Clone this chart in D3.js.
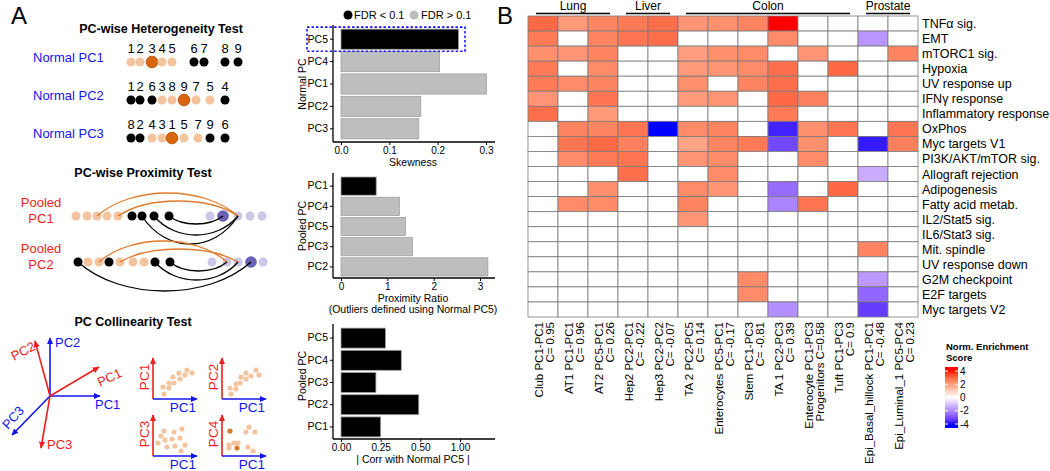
<!DOCTYPE html>
<html>
<head>
<meta charset="utf-8">
<script src="https://cdn.jsdelivr.net/npm/d3@7"></script>
<style>
  body { margin: 0; background: #fff; }
  svg { display: block; font-family: "Liberation Sans", Arial, sans-serif; }
</style>
</head>
<body>
<svg id="fig" width="1050" height="471"></svg>
<script>
// ── Panel A bar-chart data ───────────────────────────────────
const skewPCs  = ["PC5", "PC4", "PC1", "PC2", "PC3"];
const skewVals = [0.243, 0.204, 0.301, 0.165, 0.161];
const skewSig  = [true, false, false, false, false];

const proxPCs  = ["PC1", "PC4", "PC5", "PC3", "PC2"];
const proxVals = [0.76, 1.26, 1.39, 1.54, 3.17];
const proxSig  = [true, false, false, false, false];

const corrPCs  = ["PC5", "PC4", "PC3", "PC2", "PC1"];
const corrVals = [0.28, 0.38, 0.22, 0.49, 0.25];
const corrSig  = [true, true, true, true, true];
const corrTicks      = [0, 0.25, 0.5, 0.75];
const corrTickLabels = ["0.00", "0.25", "0.50", "1.00"];

// ── Panel A schematic data ───────────────────────────────────
const hetLabels = ["Normal PC1", "Normal PC2", "Normal PC3"];
const hetIds  = [[1,2,3,4,5,6,7,8,9], [1,2,6,3,8,9,7,5,4], [8,2,4,3,1,5,7,9,6]];
const hetKind = [["l","l","d","l","l","b","b","b","b"],
                 ["b","b","b","l","l","d","l","l","b"],
                 ["b","b","l","l","d","l","l","b","b"]];
const hetSlot = [[0,0.9,2.1,3.1,4.1,6.3,7.3,9.4,10.7],
                 [0,0.9,2.1,3.1,4.1,5.3,6.5,7.9,9.4],
                 [0,0.9,2.1,3.1,4.1,5.3,6.7,7.9,9.4]];

const proxLabels = ["PC1", "PC2"];
const proxKind = [["l","l","l","l","l","b","b","b","b","p","P","p","p","p"],
                  ["b","l","l","b","l","l","l","b","b","p","p","p","P","p"]];
const proxSlot = [[0,1.1,2.1,3.1,4.2,5.6,6.6,7.8,9.3,13.4,14.7,16.2,17.4,18.6],
                  [0.2,1.2,2.3,3.3,4.4,5.7,6.8,7.9,9.4,13.6,15.1,16.2,17.5,18.7]];
// arcs: [from dot, to dot, bulge (neg = above), colour kind]
const proxArcs = [
  [[2,11,-23,"o"], [4,11,-15,"o"], [8,10,8,"k"], [7,11,19,"k"], [6,11,28,"k"]],
  [[2,10,-21,"o"], [4,11,-13,"o"], [8,10,9,"k"], [7,11,18,"k"], [0,12,29,"k"]]
];

// mini scatter panels (PCx vs PC1), offsets from panel origin
const miniY = ["PC1", "PC2", "PC3", "PC4"];
const miniPts = [
  [[11,-5],[10,-12],[16,-11],[16,-16],[21,-16],[20,-22],[27,-20],[26,-26],[32,-24],[34,-29],[39,-26]],
  [[9,-5],[8,-11],[14,-10],[14,-15],[18,-16],[19,-22],[24,-20],[24,-26],[29,-23],[34,-29],[37,-24]],
  [[5,-13],[8,-20],[12,-16],[11,-25],[19,-17],[21,-24],[14,-9],[22,-10],[27,-18],[29,-27],[32,-11],[28,-5]],
  [[7,-11],[7,-8],[12,-13],[16,-13],[24,-24],[27,-29],[33,-24],[26,-9],[31,-5]]
];
const miniDark = [[], [], [], [[8,-25],[15,-8]]];

// ── Panel B heatmap data ─────────────────────────────────────
const hmNames = ["Club PC1-PC1", "AT1 PC1-PC1", "AT2 PC5-PC1", "Hep2 PC2-PC1", "Hep3 PC2-PC2",
  "TA 2 PC2-PC5", "Enterocytes PC5-PC1", "Stem PC1-PC3", "TA 1 PC2-PC3", "Enterocyte PC1-PC3",
  "Tuft PC1-PC3", "Epi_Basal_hillock PC1-PC1", "Epi_Luminal_1 PC5-PC4"];
const hmStats = ["C= 0.95", "C= 0.96", "C= 0.26", "C= -0.22", "C= -0.07", "C= 0.14", "C= -0.17",
  "C= -0.81", "C= 0.39", "Progenitors   C=0.58", "C= 0.9", "C= -0.48", "C= 0.23"];
const hmGroups = ["Lung", "Liver", "Colon", "Prostate"];
const hmGroupSpan = [[0,2], [3,4], [5,10], [11,12]];
const hmSets = ["TNFα sig.", "EMT", "mTORC1 sig.", "Hypoxia", "UV response up", "IFNγ response",
  "Inflammatory response", "OxPhos", "Myc targets V1", "PI3K/AKT/mTOR sig.", "Allograft rejection",
  "Adipogenesis", "Fatty acid metab.", "IL2/Stat5 sig.", "IL6/Stat3 sig.", "Mit. spindle",
  "UV response down", "G2M checkpoint", "E2F targets", "Myc targets V2"];
const nes = [
  [3.0, 2.1, 2.5, 2.7, 2.9, 2.2, 2.3, 2.5, 4.0, 0, 0, 0, 0],
  [2.7, 0, 2.5, 2.8, 2.9, 0, 0, 0, 2.4, 0, 0, -1.8, 0],
  [2.3, 2.2, 2.5, 0, 0, 2.0, 2.3, 2.4, 0, 2.2, 0, 0, 2.5],
  [2.7, 0, 2.4, 0, 0, 2.1, 2.2, 2.4, 2.9, 0, 3.0, 0, 0],
  [2.7, 2.4, 2.5, 0, 0, 2.3, 0, 2.5, 2.9, 0, 0, 0, 0],
  [2.2, 0, 2.8, 0, 0, 2.1, 2.2, 0, 3.0, 2.6, 0, 0, 0],
  [2.9, 0, 2.1, 0, 0, 0, 0, 0, 2.7, 0, 0, 0, 0],
  [0, 2.5, 2.5, 2.8, -4.0, 2.4, 2.5, 0, -3.7, 2.3, 2.8, 0, 2.8],
  [0, 2.8, 3.0, 2.6, 0, 1.9, 2.5, 2.7, -3.1, 2.3, 0, -3.8, 2.6],
  [0, 2.4, 2.7, 2.8, 0, 2.2, 2.4, 0, 0, 2.4, 0, 0, 0],
  [0, 0, 0, 2.9, 0, 0, 2.4, 0, 0, 0, 0, -1.4, 0],
  [0, 0, 2.3, 0, 0, 2.4, 2.2, 0, -2.5, 0, 3.0, 0, 0],
  [0, 2.4, 2.4, 0, 0, 2.5, 0, 0, -2.1, 2.8, 0, 0, 0],
  [0, 0, 0, 0, 0, 2.2, 0, 0, 0, 0, 0, 0, 0],
  [0, 0, 0, 0, 0, 0, 0, 0, 0, 0, 0, 0, 0],
  [0, 0, 0, 0, 0, 0, 0, 0, 0, 0, 0, 2.5, 0],
  [0, 0, 0, 0, 0, 0, 0, 0, 0, 0, 0, 0, 0],
  [0, 0, 0, 0, 0, 0, 0, 2.4, 0, 0, 0, -1.7, 0],
  [0, 0, 0, 0, 0, 0, 0, 2.4, 0, 0, 0, -2.6, 0],
  [0, 0, 0, 0, 0, 0, 0, 0, -1.9, 0, 0, -3.3, 0]
];
const legendTicks = [4, 2, 0, -2, -4];

// ── colours ──────────────────────────────────────────────────
const LIGHT_OR = "#f3c49e", DARK_OR = "#d8650f", ARC_OR = "#e07a2c";
const LIGHT_PU = "#cbc6e6", DARK_PU = "#6a60b6";
const BLUE = "#1414f0", RED = "#f01e1e";

const svg = d3.select("#fig");

// panel letters
svg.append("text").attr("x", 11).attr("y", 24).attr("font-size", 24).text("A");
svg.append("text").attr("x", 497).attr("y", 24).attr("font-size", 24).text("B");

// ============================================================
//  Panel A – schematics
// ============================================================
const defs = svg.append("defs");
[["arRed", RED], ["arBlue", BLUE]].forEach(([id, c]) => {
  defs.append("marker").attr("id", id)
    .attr("viewBox", "0 -5 10 10").attr("refX", 9).attr("refY", 0)
    .attr("markerWidth", 7).attr("markerHeight", 7).attr("orient", "auto")
    .attr("markerUnits", "userSpaceOnUse")
    .append("path").attr("d", "M0,-4.5L10,0L0,4.5Z").attr("fill", c);
});

function title(x, y, t) {
  svg.append("text").attr("x", x).attr("y", y).attr("text-anchor", "middle")
    .attr("font-size", 12.5).attr("font-weight", "bold").text(t);
}

// --- heterogeneity test
title(161, 33, "PC-wise Heterogeneity Test");
const hetX = d3.scaleLinear().domain([0, 10]).range([131, 231]);
const hetDotY = [62, 100, 138];
hetLabels.forEach((lab, r) => {
  const g = svg.append("g");
  g.append("text").attr("x", 33).attr("y", hetDotY[r]).attr("font-size", 13)
    .attr("fill", BLUE).text(lab);
  hetSlot[r].forEach((s, i) => {
    const k = hetKind[r][i];
    g.append("circle").attr("cx", hetX(s)).attr("cy", hetDotY[r])
      .attr("r", k === "d" ? 5.8 : 4.5)
      .attr("fill", k === "b" ? "#000" : k === "d" ? DARK_OR : LIGHT_OR)
      .attr("stroke", k === "d" ? "#c45a0c" : "none");
    g.append("text").attr("x", hetX(s)).attr("y", hetDotY[r] - 9)
      .attr("text-anchor", "middle").attr("font-size", 13).text(hetIds[r][i]);
  });
});

// --- proximity test
title(143, 177, "PC-wise Proximity Test");
const proxX = d3.scaleLinear().domain([0, 10]).range([76, 176]);
const proxDotY = [216, 262];
function arcPath(x1, x2, y, h) {
  const dx = x2 - x1;
  return `M${x1},${y} C${x1 + dx * 0.25},${y + h / 0.75} ${x1 + dx * 0.75},${y + h / 0.75} ${x2},${y}`;
}
proxLabels.forEach((lab, r) => {
  const y = proxDotY[r];
  const g = svg.append("g");
  g.append("text").attr("x", 41).attr("y", y - 9).attr("text-anchor", "middle")
    .attr("font-size", 13).attr("fill", RED).text("Pooled");
  g.append("text").attr("x", 41).attr("y", y + 7).attr("text-anchor", "middle")
    .attr("font-size", 13).attr("fill", RED).text(lab);
  proxSlot[r].forEach((s, i) => {
    const k = proxKind[r][i];
    g.append("circle").attr("cx", proxX(s)).attr("cy", y)
      .attr("r", k === "P" ? 5.8 : 4.5)
      .attr("fill", k === "b" ? "#000" : k === "l" ? LIGHT_OR : k === "p" ? LIGHT_PU : DARK_PU);
  });
  proxArcs[r].forEach(([a, b, h, c]) => {
    g.append("path").attr("d", arcPath(proxX(proxSlot[r][a]), proxX(proxSlot[r][b]), y, h))
      .attr("fill", "none").attr("stroke", c === "o" ? ARC_OR : "#000").attr("stroke-width", 1.3);
  });
});

// --- collinearity test
title(133, 326, "PC Collinearity Test");
const O = [50, 396];
const vecs = [
  // [dx, dy, colour, label, lx, ly, rot]
  [0, -58, BLUE, "PC2", 55, 347, 0],
  [50, 0, BLUE, "PC1", 95, 409, 0],
  [-38, 39, BLUE, "PC3", 8, 430, -48],
  [-15, -55, RED, "PC2", 14, 361, -28],
  [49, -29, RED, "PC1", 100, 387, -25],
  [-9, 52, RED, "PC3", 47, 449, 0]
];
vecs.forEach(([dx, dy, c, lab, lx, ly, rot]) => {
  svg.append("line").attr("x1", O[0]).attr("y1", O[1]).attr("x2", O[0] + dx).attr("y2", O[1] + dy)
    .attr("stroke", c).attr("stroke-width", 1.6)
    .attr("marker-end", `url(#${c === RED ? "arRed" : "arBlue"})`);
  svg.append("text").attr("transform", `translate(${lx},${ly}) rotate(${rot})`)
    .attr("font-size", 13).attr("fill", c).text(lab);
});

const miniOrigin = [[153, 399], [222, 399], [153, 456], [222, 456]];
miniY.forEach((lab, p) => {
  const [ox, oy] = miniOrigin[p];
  const g = svg.append("g").attr("transform", `translate(${ox},${oy})`);
  g.append("line").attr("x1", 0).attr("y1", 0).attr("x2", 0).attr("y2", -41)
    .attr("stroke", RED).attr("stroke-width", 1.6).attr("marker-end", "url(#arRed)");
  g.append("line").attr("x1", 0).attr("y1", 0).attr("x2", 44).attr("y2", 0)
    .attr("stroke", BLUE).attr("stroke-width", 1.6).attr("marker-end", "url(#arBlue)");
  g.append("text").attr("transform", "translate(-4,-22) rotate(-90)").attr("text-anchor", "middle")
    .attr("font-size", 13.5).attr("fill", RED).text(lab);
  g.append("text").attr("x", 30).attr("y", 13).attr("text-anchor", "middle")
    .attr("font-size", 13.5).attr("fill", BLUE).text("PC1");
  miniPts[p].forEach(([x, y]) => g.append("circle").attr("cx", x).attr("cy", y).attr("r", 2.6).attr("fill", LIGHT_OR));
  miniDark[p].forEach(([x, y]) => g.append("circle").attr("cx", x).attr("cy", y).attr("r", 2.6).attr("fill", "#d47a2a"));
});

// ============================================================
//  Panel A – bar charts
// ============================================================
function barChart(opt) {
  const g = svg.append("g");
  const x = d3.scaleLinear().domain(opt.xDomain).range([341, opt.xMaxPx]);
  const y = d3.scaleBand().domain(opt.cats).range(opt.yRange).paddingInner(0.1).paddingOuter(0.05);

  g.selectAll("rect.bar").data(opt.cats).enter().append("rect")
    .attr("x", x(0)).attr("y", d => y(d))
    .attr("width", (d, i) => x(opt.vals[i]) - x(0)).attr("height", y.bandwidth())
    .attr("fill", (d, i) => opt.sig[i] ? "#000" : "#bebebe")
    .attr("stroke", "#a0a0a0").attr("stroke-width", 0.8);

  // axes
  const xAxis = d3.axisBottom(x).tickSize(3).tickPadding(1.5);
  if (opt.tickValues) xAxis.tickValues(opt.tickValues).tickFormat((d, i) => opt.tickLabels[i]);
  else xAxis.ticks(opt.nTicks).tickFormat(opt.fmt);
  const ax = g.append("g").attr("transform", `translate(0,${opt.axisY})`).call(xAxis);
  ax.select(".domain").remove();
  ax.append("line").attr("x1", 333).attr("x2", 495).attr("stroke", "#000").attr("stroke-width", 1.3);
  ax.selectAll("text").attr("font-size", 10).attr("fill", "#000").attr("font-family", "Liberation Sans, Arial, sans-serif");

  const ay = g.append("g").attr("transform", "translate(333,0)").call(d3.axisLeft(y).tickSize(3).tickPadding(2));
  ay.select(".domain").remove();
  ay.append("line").attr("y1", opt.yRange[0] - 3).attr("y2", opt.axisY).attr("stroke", "#000").attr("stroke-width", 1.3);
  ay.selectAll("text").attr("font-size", 10.5).attr("fill", "#000").attr("font-family", "Liberation Sans, Arial, sans-serif");

  g.append("text").attr("transform", `translate(306,${opt.yLabelY}) rotate(-90)`)
    .attr("text-anchor", "middle").attr("font-size", 10.5).text(opt.yLabel);
  opt.xLabel.forEach((t, i) => g.append("text").attr("x", 413).attr("y", opt.axisY + 24 + i * 11)
    .attr("text-anchor", "middle").attr("font-size", 10.5).text(t));
  return { x, y };
}

const c1 = barChart({ cats: skewPCs, vals: skewVals, sig: skewSig, xDomain: [0, 0.3], xMaxPx: 486,
  nTicks: 4, fmt: d3.format(".1f"), yRange: [28, 140], axisY: 142,
  yLabel: "Normal PC", yLabelY: 84, xLabel: ["Skewness"] });
// highlight box around PC5
svg.append("rect").attr("x", 307).attr("y", c1.y("PC5") - 2).attr("width", 158).attr("height", c1.y.bandwidth() + 4)
  .attr("fill", "none").attr("stroke", "#1a1aff").attr("stroke-width", 1.6).attr("stroke-dasharray", "2.5,2");
// legend
svg.append("circle").attr("cx", 348).attr("cy", 15).attr("r", 4.5).attr("fill", "#000");
svg.append("text").attr("x", 354).attr("y", 19).attr("font-size", 11).text("FDR < 0.1");
svg.append("circle").attr("cx", 414).attr("cy", 15).attr("r", 4.5).attr("fill", "#bebebe");
svg.append("text").attr("x", 421).attr("y", 19).attr("font-size", 11).text("FDR > 0.1");

barChart({ cats: proxPCs, vals: proxVals, sig: proxSig, xDomain: [0, 3], xMaxPx: 480,
  nTicks: 3, fmt: d3.format("d"), yRange: [176, 277], axisY: 278,
  yLabel: "Pooled PC", yLabelY: 226, xLabel: ["Proximity Ratio", "(Outliers defined using Normal PC5)"] });

barChart({ cats: corrPCs, vals: corrVals, sig: corrSig, xDomain: [0, 0.75], xMaxPx: 460,
  tickValues: corrTicks, tickLabels: corrTickLabels, yRange: [327, 438], axisY: 439,
  yLabel: "Pooled PC", yLabelY: 376, xLabel: ["| Corr with Normal PC5 |"] });

// ============================================================
//  Panel B – heatmap
// ============================================================
const hx = d3.scaleBand().domain(d3.range(hmNames.length)).range([528, 918]);
const hy = d3.scaleBand().domain(d3.range(hmSets.length)).range([16, 317]);
const nesColor = d3.scaleLinear().domain([-4, 0, 4]).range(["#0000ff", "#ffffff", "#ff0000"])
  .interpolate(d3.interpolateLab).clamp(true);

const cells = [];
nes.forEach((row, r) => row.forEach((v, c) => cells.push({ r, c, v })));
svg.append("g").selectAll("rect").data(cells).enter().append("rect")
  .attr("x", d => hx(d.c)).attr("y", d => hy(d.r))
  .attr("width", hx.bandwidth()).attr("height", hy.bandwidth())
  .attr("fill", d => nesColor(d.v)).attr("stroke", "#7a7a7a").attr("stroke-width", 0.8);

// row labels
svg.append("g").selectAll("text").data(hmSets).enter().append("text")
  .attr("x", 922).attr("y", (d, i) => hy(i) + hy.bandwidth() / 2 + 4.5)
  .attr("font-size", 12.5).text(d => d);

// column labels (rotated, two lines)
hmNames.forEach((n, i) => {
  const cx = hx(i) + hx.bandwidth() / 2;
  const t = svg.append("g").attr("transform", `translate(${cx},322) rotate(-90)`);
  t.append("text").attr("x", 0).attr("y", 0).attr("text-anchor", "end").attr("font-size", 11.5).text(n);
  t.append("text").attr("x", 0).attr("y", 11).attr("text-anchor", "end").attr("font-size", 11.5).text(hmStats[i]);
});

// tissue groups
hmGroups.forEach((gname, i) => {
  const [a, b] = hmGroupSpan[i];
  const x1 = hx(a) + 8, x2 = hx(b) + hx.bandwidth() - 8;
  svg.append("line").attr("x1", x1).attr("x2", x2).attr("y1", 13.5).attr("y2", 13.5)
    .attr("stroke", "#000").attr("stroke-width", 1.3);
  svg.append("text").attr("x", (x1 + x2) / 2).attr("y", 10).attr("text-anchor", "middle")
    .attr("font-size", 12).text(gname);
});

// colour legend
const ly = d3.scaleLinear().domain([4, -4]).range([371, 424]);
const grad = defs.append("linearGradient").attr("id", "nesGrad").attr("x1", 0).attr("x2", 0).attr("y1", 0).attr("y2", 1);
d3.range(0, 1.0001, 0.05).forEach(t => grad.append("stop").attr("offset", t).attr("stop-color", nesColor(4.6 - t * 9.2)));
svg.append("rect").attr("x", 945).attr("y", ly(4.6)).attr("width", 13).attr("height", ly(-4.6) - ly(4.6))
  .attr("fill", "url(#nesGrad)");
legendTicks.forEach(v => {
  svg.append("line").attr("x1", 945).attr("x2", 948).attr("y1", ly(v)).attr("y2", ly(v)).attr("stroke", "#fff");
  svg.append("line").attr("x1", 955).attr("x2", 958).attr("y1", ly(v)).attr("y2", ly(v)).attr("stroke", "#fff");
  svg.append("text").attr("x", 960).attr("y", ly(v) + 3.5).attr("font-size", 10).text(v);
});
svg.append("text").attr("x", 946).attr("y", 350).attr("font-size", 9.5).attr("font-weight", "bold").text("Norm. Enrichment");
svg.append("text").attr("x", 946).attr("y", 361).attr("font-size", 9.5).attr("font-weight", "bold").text("Score");
</script>
</body>
</html>
